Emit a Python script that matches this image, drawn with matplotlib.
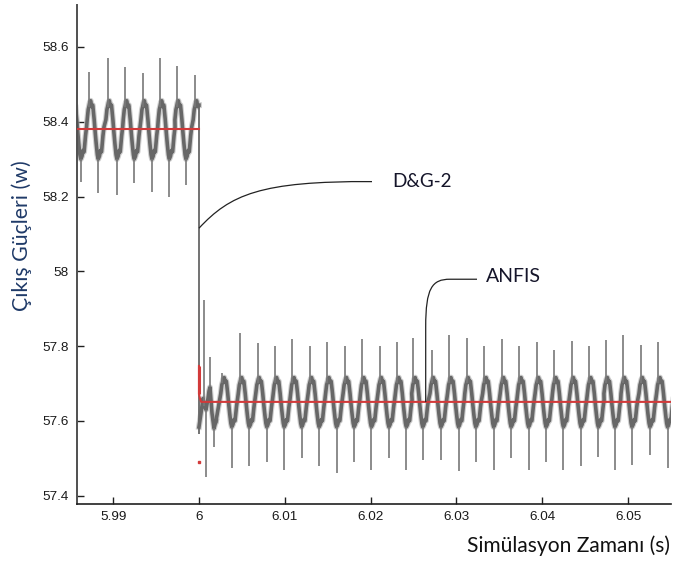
import numpy as np
import matplotlib
matplotlib.use("Agg")
import matplotlib.pyplot as plt
from matplotlib.path import Path
from matplotlib.patches import PathPatch

# ---- axis layout values ----
x_ticks = [5.99, 6.00, 6.01, 6.02, 6.03, 6.04, 6.05]
x_tick_labels = ["5.99", "6", "6.01", "6.02", "6.03", "6.04", "6.05"]
y_ticks = [57.4, 57.6, 57.8, 58.0, 58.2, 58.4, 58.6]
y_tick_labels = ["57.4", "57.6", "57.8", "58", "58.2", "58.4", "58.6"]

# ---- controller reference (ANFIS) ----
ref_before = 58.381
ref_after = 57.651
ref_step_t = [6.0, 6.0, 6.00012, 6.00025]
ref_step_y = [57.747, 57.672, 57.660, 57.651]
ref_dip = 57.49

# ---- D&G-2 output: ripple cycles before the step ----
step_time = 6.0
pre_mean, pre_amp, pre_period = 58.378, 0.078, 0.00204
pre_cycle_t = [5.98515, 5.98718, 5.98936, 5.99138, 5.99344, 5.99546, 5.99740, 5.99953]
pre_spike_top = [58.550, 58.534, 58.571, 58.547, 58.530, 58.570, 58.549, 58.525]
pre_dip_bottom = [58.240, 58.210, 58.204, 58.236, 58.213, 58.200, 58.231, 58.220]

# ---- D&G-2 output: transient right after the step ----
tr_t = [6.0, 6.00023, 6.00047, 6.00064, 6.00082, 6.00105, 6.00117, 6.00128,
        6.00152, 6.00175, 6.00198]
tr_y = [57.584, 57.620, 57.660, 57.640, 57.630, 57.660, 57.680, 57.690,
        57.620, 57.580, 57.600]
tr_spike_t = [6.00064, 6.00128]
tr_spike_top = [57.923, 57.770]
tr_dip_t = [6.00082, 6.00175]
tr_dip_bottom = [57.451, 57.530]

# ---- D&G-2 output: ripple cycles after the step ----
post_mean, post_amp, post_period = 57.650, 0.066, 0.00203
post_cycle_t = [6.00274, 6.00478, 6.00682, 6.00885, 6.01088, 6.01292, 6.01495,
                6.01699, 6.01901, 6.02105, 6.02308, 6.02499, 6.02711, 6.02916,
                6.03117, 6.03325, 6.03529, 6.03732, 6.03936, 6.04138, 6.04342,
                6.04545, 6.04738, 6.04937, 6.05146, 6.05351]
post_spike_top = [57.728, 57.835, 57.809, 57.800, 57.820, 57.800, 57.810,
                  57.800, 57.820, 57.800, 57.810, 57.822, 57.790, 57.830,
                  57.822, 57.800, 57.820, 57.800, 57.810, 57.790, 57.815,
                  57.800, 57.816, 57.830, 57.803, 57.812]
post_dip_bottom = [57.474, 57.480, 57.490, 57.470, 57.500, 57.480, 57.460,
                   57.490, 57.470, 57.500, 57.469, 57.496, 57.496, 57.465,
                   57.490, 57.470, 57.500, 57.470, 57.490, 57.470, 57.480,
                   57.504, 57.469, 57.482, 57.509, 57.474]

# one ripple period of the output (phase within cycle, level in ripple amplitudes)
shape_phase = [-0.10, -0.04, 0.00, 0.05, 0.10, 0.16, 0.22, 0.30, 0.36,
               0.42, 0.48, 0.53, 0.60, 0.66, 0.72, 0.80, 0.86]
shape_level = [0.35, 0.70, 0.80, 0.95, 1.00, 0.80, 0.85, 0.35, -0.10,
               -0.50, -0.85, -1.00, -0.90, -0.70, -0.75, -0.20, 0.10]
spike_level = 0.80
dip_phase, dip_level = 0.53, -1.00

BAND = "#676767"
HALO = "#a9a9a9"
SPIKE = "#787878"
RED = "#d23a3a"
TEXT_DARK = "#15152a"


def ripple(cycle_t, period, mean, amp):
    ts, ys = [], []
    for t0 in cycle_t:
        for ph, lv in zip(shape_phase, shape_level):
            ts.append(t0 + ph * period)
            ys.append(mean + amp * lv)
    return np.array(ts), np.array(ys)


def band(t, y):
    ax.plot(t, y, color=HALO, lw=4.2, alpha=0.55, zorder=1.8)
    ax.plot(t, y, color=BAND, lw=2.6, zorder=2)


fig = plt.figure(figsize=(6.78, 5.63), dpi=100)
W, H = 678.0, 563.0
ax = fig.add_axes([77 / W, 1 - 504 / H, (671 - 77) / W, (504 - 5) / H])
ax.set_xlim(5.98579, 6.05499)
ax.set_ylim(57.378, 58.712)

# output before the step
t_pre, y_pre = ripple(pre_cycle_t, pre_period, pre_mean, pre_amp)
keep = t_pre < step_time
t_pre = np.append(t_pre[keep], step_time)
y_pre = np.append(y_pre[keep], pre_mean + pre_amp * 0.85)
band(t_pre, y_pre)

pre_sp_t = np.array(pre_cycle_t)
pre_dp_t = pre_sp_t + dip_phase * pre_period
ax.vlines(pre_sp_t, pre_mean + pre_amp * spike_level, pre_spike_top, color=SPIKE, lw=1.2, zorder=2)
m = pre_dp_t < step_time
ax.vlines(pre_dp_t[m], pre_mean + pre_amp * dip_level, np.array(pre_dip_bottom)[m],
          color=SPIKE, lw=1.2, zorder=2)

# the step itself
ax.vlines([step_time], tr_y[0] - 0.02, y_pre[-1], color=BAND, lw=1.3, zorder=2)

# transient after the step
band(tr_t, tr_y)
ax.vlines(tr_spike_t, [tr_y[3], tr_y[7]], tr_spike_top, color=SPIKE, lw=1.2, zorder=2)
ax.vlines(tr_dip_t, [tr_y[4], tr_y[9]], tr_dip_bottom, color=SPIKE, lw=1.2, zorder=2)

# output after the step
t_post, y_post = ripple(post_cycle_t, post_period, post_mean, post_amp)
t_post = np.concatenate([[tr_t[-1]], t_post])
y_post = np.concatenate([[tr_y[-1]], y_post])
band(t_post, y_post)
post_sp_t = np.array(post_cycle_t)
ax.vlines(post_sp_t, post_mean + post_amp * spike_level, post_spike_top, color=SPIKE, lw=1.2, zorder=2)
ax.vlines(post_sp_t + dip_phase * post_period, post_mean + post_amp * dip_level, post_dip_bottom,
          color=SPIKE, lw=1.2, zorder=2)

# reference (red)
x0, x1 = ax.get_xlim()
ax.plot([x0, step_time], [ref_before, ref_before], color=RED, lw=1.5, zorder=3)
ax.plot(ref_step_t + [x1], ref_step_y + [ref_after], color=RED, lw=1.5, zorder=3)
ax.vlines([step_time], ref_step_y[0], ref_step_y[1], color=RED, lw=2.2, zorder=3)
ax.plot([step_time], [ref_dip], marker="s", ms=1.5, color=RED, zorder=3)


# annotation leaders (pixel positions converted through the data scale)
def px(x, y):
    return 6.0 + (x - 199) * 0.01 / 85.83, 58.6 - (y - 47) / 374.0


dg_path = Path([px(199, 228.3), px(230, 195), px(260, 181), px(372, 181.7)],
               [Path.MOVETO, Path.CURVE4, Path.CURVE4, Path.CURVE4])
ax.add_patch(PathPatch(dg_path, fill=False, ec="#222222", lw=0.9, zorder=4))

an_path = Path([px(425.7, 402), px(425.7, 327), px(425.7, 288), px(432, 279.3),
                px(450, 279.3), px(477, 279.3)],
               [Path.MOVETO, Path.LINETO, Path.CURVE4, Path.CURVE4, Path.CURVE4, Path.LINETO])
ax.add_patch(PathPatch(an_path, fill=False, ec="#222222", lw=0.9, zorder=4))

ax.text(*px(392, 182), "D&G-2", fontsize=13.6, family="Lato", color=TEXT_DARK,
        ha="left", va="center", zorder=5)
ax.text(*px(486, 277), "ANFIS", fontsize=14.0, family="Lato", color=TEXT_DARK,
        ha="left", va="center", zorder=5)

# axes styling
for s in ("top", "right"):
    ax.spines[s].set_visible(False)
ax.spines["left"].set_color("#505050")
ax.spines["left"].set_linewidth(1.4)
ax.spines["bottom"].set_color("#202020")
ax.spines["bottom"].set_linewidth(1.2)

ax.set_xticks(x_ticks)
ax.set_xticklabels(x_tick_labels)
ax.set_yticks(y_ticks)
ax.set_yticklabels(y_tick_labels)
ax.tick_params(axis="both", direction="in", length=5, width=1, colors="#202020",
               labelsize=9.7, labelcolor="#1a1a1a")
ax.tick_params(axis="x", pad=5)
ax.tick_params(axis="y", pad=6)
for lab in ax.get_xticklabels() + ax.get_yticklabels():
    lab.set_family("Liberation Sans")

fig.text(670 / W, 1 - 546 / H, "Simülasyon Zamanı (s)", fontsize=15.1, family="Lato",
         color="#111111", ha="right", va="center")
fig.text(22 / W, 1 - 236 / H, "Çıkış Güçleri (w)", fontsize=15.3, family="Lato",
         color="#1f3a68", rotation=90, ha="center", va="center")

fig.savefig("out.png", dpi=100)
